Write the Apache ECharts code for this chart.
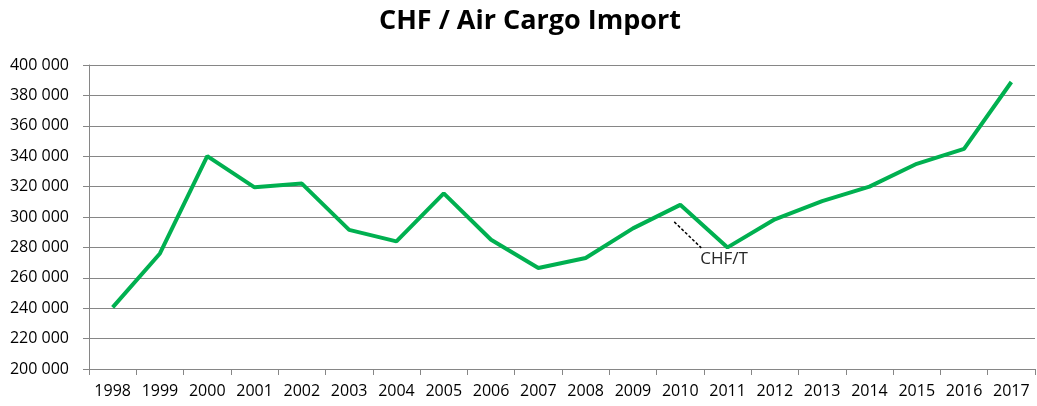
<!DOCTYPE html>
<html>
<head>
<meta charset="utf-8">
<script src="https://cdn.jsdelivr.net/npm/echarts@6/dist/echarts.min.js"></script>
<style>
  html, body { margin: 0; padding: 0; background: #fff; }
  #main { width: 1037px; height: 406px; }
</style>
</head>
<body>
<div id="main"></div>
<script>
// 年份
var years = ["1998", "1999", "2000", "2001", "2002", "2003", "2004", "2005", "2006", "2007",
  "2008", "2009", "2010", "2011", "2012", "2013", "2014", "2015", "2016", "2017"];
// CHF/T
var chfPerTon = [240500, 276000, 340000, 319500, 322000, 291500, 284000, 315500, 285000, 266500,
  273000, 292500, 308000, 280000, 298500, 310500, 320000, 335000, 344800, 388800];
var seriesName = "CHF/T";
var labelIndex = 12; // 2010

var chart = echarts.init(document.getElementById("main"));

function fmt(v) {
  return String(v).replace(/\B(?=(\d{3})+(?!\d))/g, " ");
}

var option = {
  animation: false,
  title: {
    text: "CHF / Air Cargo Import",
    left: 525,
    textAlign: "center",
    top: 3,
    textStyle: {
      fontFamily: "Open Sans",
      fontWeight: "bold",
      fontSize: 27,
      color: "#000"
    }
  },
  grid: {
    left: 89,
    right: 2,
    top: 65,
    bottom: 37
  },
  xAxis: {
    type: "category",
    data: years,
    boundaryGap: true,
    axisLine: { lineStyle: { color: "#868686", width: 1 } },
    axisTick: { show: true, length: 6, lineStyle: { color: "#868686" } },
    axisLabel: {
      color: "#000",
      fontSize: 16,
      fontFamily: "Open Sans",
      margin: 14,
      interval: 0
    },
    splitLine: { show: false }
  },
  yAxis: {
    type: "value",
    min: 200000,
    max: 400000,
    interval: 20000,
    axisLine: { show: true, lineStyle: { color: "#868686", width: 1 } },
    axisTick: { show: true, length: 6, lineStyle: { color: "#868686" } },
    axisLabel: {
      color: "#000",
      fontSize: 16,
      fontFamily: "Open Sans",
      margin: 20,
      formatter: fmt
    },
    splitLine: { show: true, lineStyle: { color: "#868686", width: 1 } }
  },
  series: [
    {
      name: seriesName,
      type: "line",
      data: chfPerTon,
      symbol: "none",
      lineStyle: { color: "#00B050", width: 4 },
      itemStyle: { color: "#00B050" }
    }
  ]
};
chart.setOption(option);

// 数据标签（带虚线引线），位置由坐标轴换算
var p = chart.convertToPixel({ seriesIndex: 0 }, [labelIndex, chfPerTon[labelIndex]]);
chart.setOption({
  graphic: [
    {
      type: "line",
      shape: { x1: p[0] - 6, y1: p[1] + 17, x2: p[0] + 21, y2: p[1] + 43 },
      style: { stroke: "#000", lineWidth: 1.5, lineDash: [3, 2] }
    },
    {
      type: "text",
      x: p[0] + 20,
      y: p[1] + 46,
      style: {
        text: seriesName,
        fill: "#262626",
        font: "17px 'Open Sans'"
      }
    }
  ]
});
</script>
</body>
</html>
